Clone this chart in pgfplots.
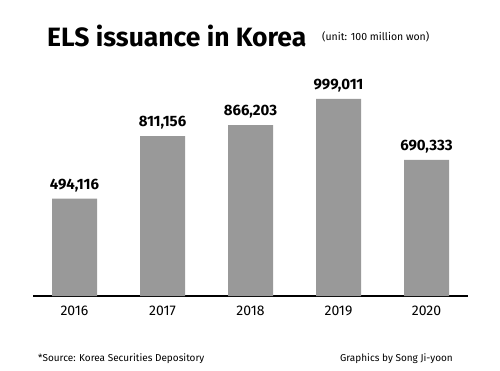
\documentclass[border=0pt]{standalone}
\usepackage{pgfplots}
\pgfplotsset{compat=1.18}
\usepackage{fontspec}
\setmainfont{Fira Sans}
\definecolor{bargray}{HTML}{999999}
\begin{document}
\begin{tikzpicture}[x=1pt,y=1pt]
\path[use as bounding box] (0,0) rectangle (500,370);
\begin{axis}[
  at={(33pt,74pt)}, anchor=south west,
  scale only axis, width=435pt, height=197.2pt,
  xmin=-0.4716, xmax=4.4716, ymin=0, ymax=1000000,
  axis x line=bottom, axis y line=none,
  axis line style={black, line width=1.2pt, -},
  xtick={0,1,2,3,4}, xticklabels={2016,2017,2018,2019,2020},
  major tick length=0pt,
  xticklabel style={font=\fontsize{14}{14}\selectfont, yshift=-6pt},
  ybar, bar width=45pt,
  nodes near coords,
  /pgf/number format/assume math mode=true,
  /pgf/number format/.cd, fixed, precision=0, 1000 sep={,},
  /pgfplots/.cd,
  every node near coord/.append style={font=\fontsize{15}{15}\selectfont\bfseries, yshift=3pt},
  clip=false,
]
\addplot[fill=bargray, draw=none] coordinates {(0,494116) (1,811156) (2,866203) (3,999011) (4,690333)};
\end{axis}
\node[anchor=base west, inner sep=0pt, font=\fontsize{26.5}{26.5}\selectfont\bfseries] at (47,323) {ELS issuance in Korea};
\node[anchor=base west, inner sep=0pt, font=\fontsize{10.5}{10.5}\selectfont] at (322,329) {(unit: 100 million won)};
\node[anchor=base west, inner sep=0pt, font=\fontsize{10}{10}\selectfont] at (38,9) {*Source: Korea Securities Depository};
\node[anchor=base east, inner sep=0pt, font=\fontsize{10}{10}\selectfont] at (453,9) {Graphics by Song Ji-yoon};
\end{tikzpicture}
\end{document}
